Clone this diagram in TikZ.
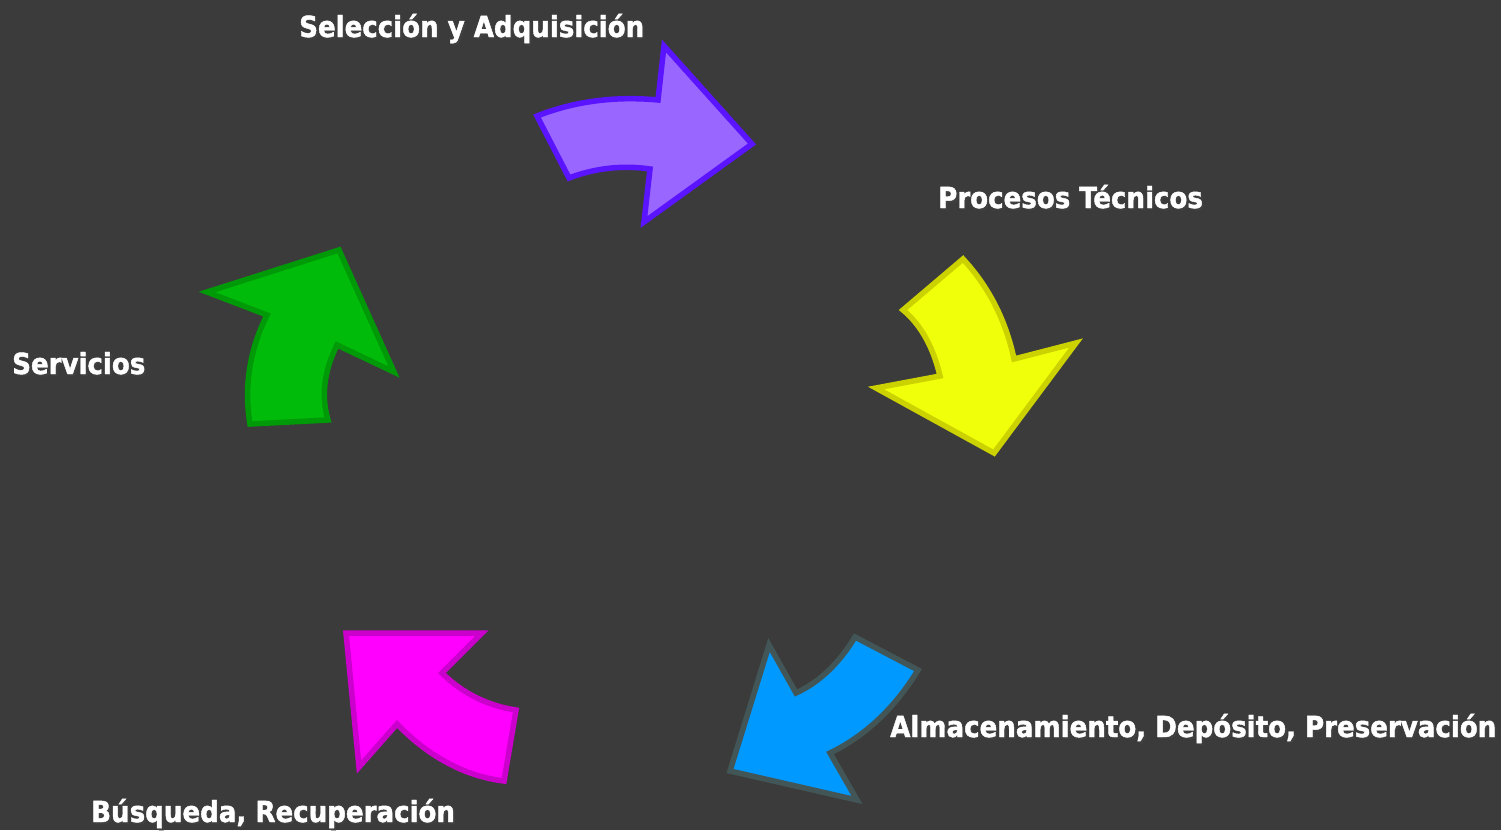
\documentclass[tikz,border=0pt]{standalone}
\usepackage{fontspec}
\newfontfamily\lblfont{DejaVu Sans Condensed}[BoldFeatures={FakeBold=1.5}]
\usetikzlibrary{positioning}

\definecolor{bgcol}{HTML}{3B3B3B}
\definecolor{violetfill}{HTML}{9966FF}
\definecolor{violetline}{HTML}{5A14FF}
\definecolor{yellowfill}{HTML}{F0FF0A}
\definecolor{yellowline}{HTML}{CCD200}
\definecolor{bluefill}{HTML}{0099FF}
\definecolor{blueline}{HTML}{435657}
\definecolor{pinkfill}{HTML}{FF00FF}
\definecolor{pinkline}{HTML}{CC00CC}
\definecolor{greenfill}{HTML}{00BB0A}
\definecolor{greenline}{HTML}{009A08}

\newcommand\shadowed[1]{\rlap{\kern2pt\raisebox{-2pt}{\color{black!75}#1}}#1}

\begin{document}
\begin{tikzpicture}[
        x=1pt, y=-1pt,
        stage/.style={anchor=base west, inner sep=0pt, text=white, font=\lblfont\bfseries\fontsize{29}{32}\selectfont},
        curvedarrow/.style={line width=5.5pt, line join=miter}
        ]

        \fill[bgcol] (0,0) rectangle (1501,830);
        \useasboundingbox (0,0) rectangle (1501,830);

        % arrows of the cycle
        \draw[curvedarrow, draw=violetline, fill=violetfill]
            (537,116) .. controls (575,101) and (616,96) .. (658,100)
            -- (664,46) -- (752,144) -- (644,222) -- (650,169)
            .. controls (623,165) and (595,168) .. (569,178) -- cycle;
        \draw[curvedarrow, draw=yellowline, fill=yellowfill]
            (963,259) -- (903,310) .. controls (920,324) and (933,346) .. (940,376)
            -- (876,388) -- (994,453) -- (1076,343) -- (1014,359)
            .. controls (1006,321) and (989,287) .. cycle;
        \draw[curvedarrow, draw=blueline, fill=bluefill]
            (855,637) -- (918,670) .. controls (895,708) and (865,736) .. (830,753)
            -- (857,800) -- (730,771) -- (769,645) -- (796,693)
            .. controls (820,682) and (840,662) .. cycle;
        \draw[curvedarrow, draw=pinkline, fill=pinkfill]
            (346,633) -- (482,633) -- (442,673) .. controls (463,694) and (489,706) .. (516,710)
            -- (504,781) .. controls (464,776) and (428,756) .. (397,724)
            -- (359,767) -- cycle;
        \draw[curvedarrow, draw=greenline, fill=greenfill]
            (207,292) -- (339,250) -- (394,372) -- (337,345)
            .. controls (324,371) and (321,396) .. (328,420) -- (250,424)
            .. controls (244,388) and (249,351) .. (267,315) -- cycle;

        % labels
        \node[stage] (select) at (299,37) {\shadowed{Selección y Adquisición}};
        \node[stage] (process) at (938,208) {\shadowed{Procesos Técnicos}};
        \node[stage] (store) at (890,737) {\shadowed{Almacenamiento, Depósito, Preservación}};
        \node[stage] (search) at (91,822) {\shadowed{Búsqueda, Recuperación}};
        \node[stage] (service) at (12,374) {\shadowed{Servicios}};
    \end{tikzpicture}
\end{document}
